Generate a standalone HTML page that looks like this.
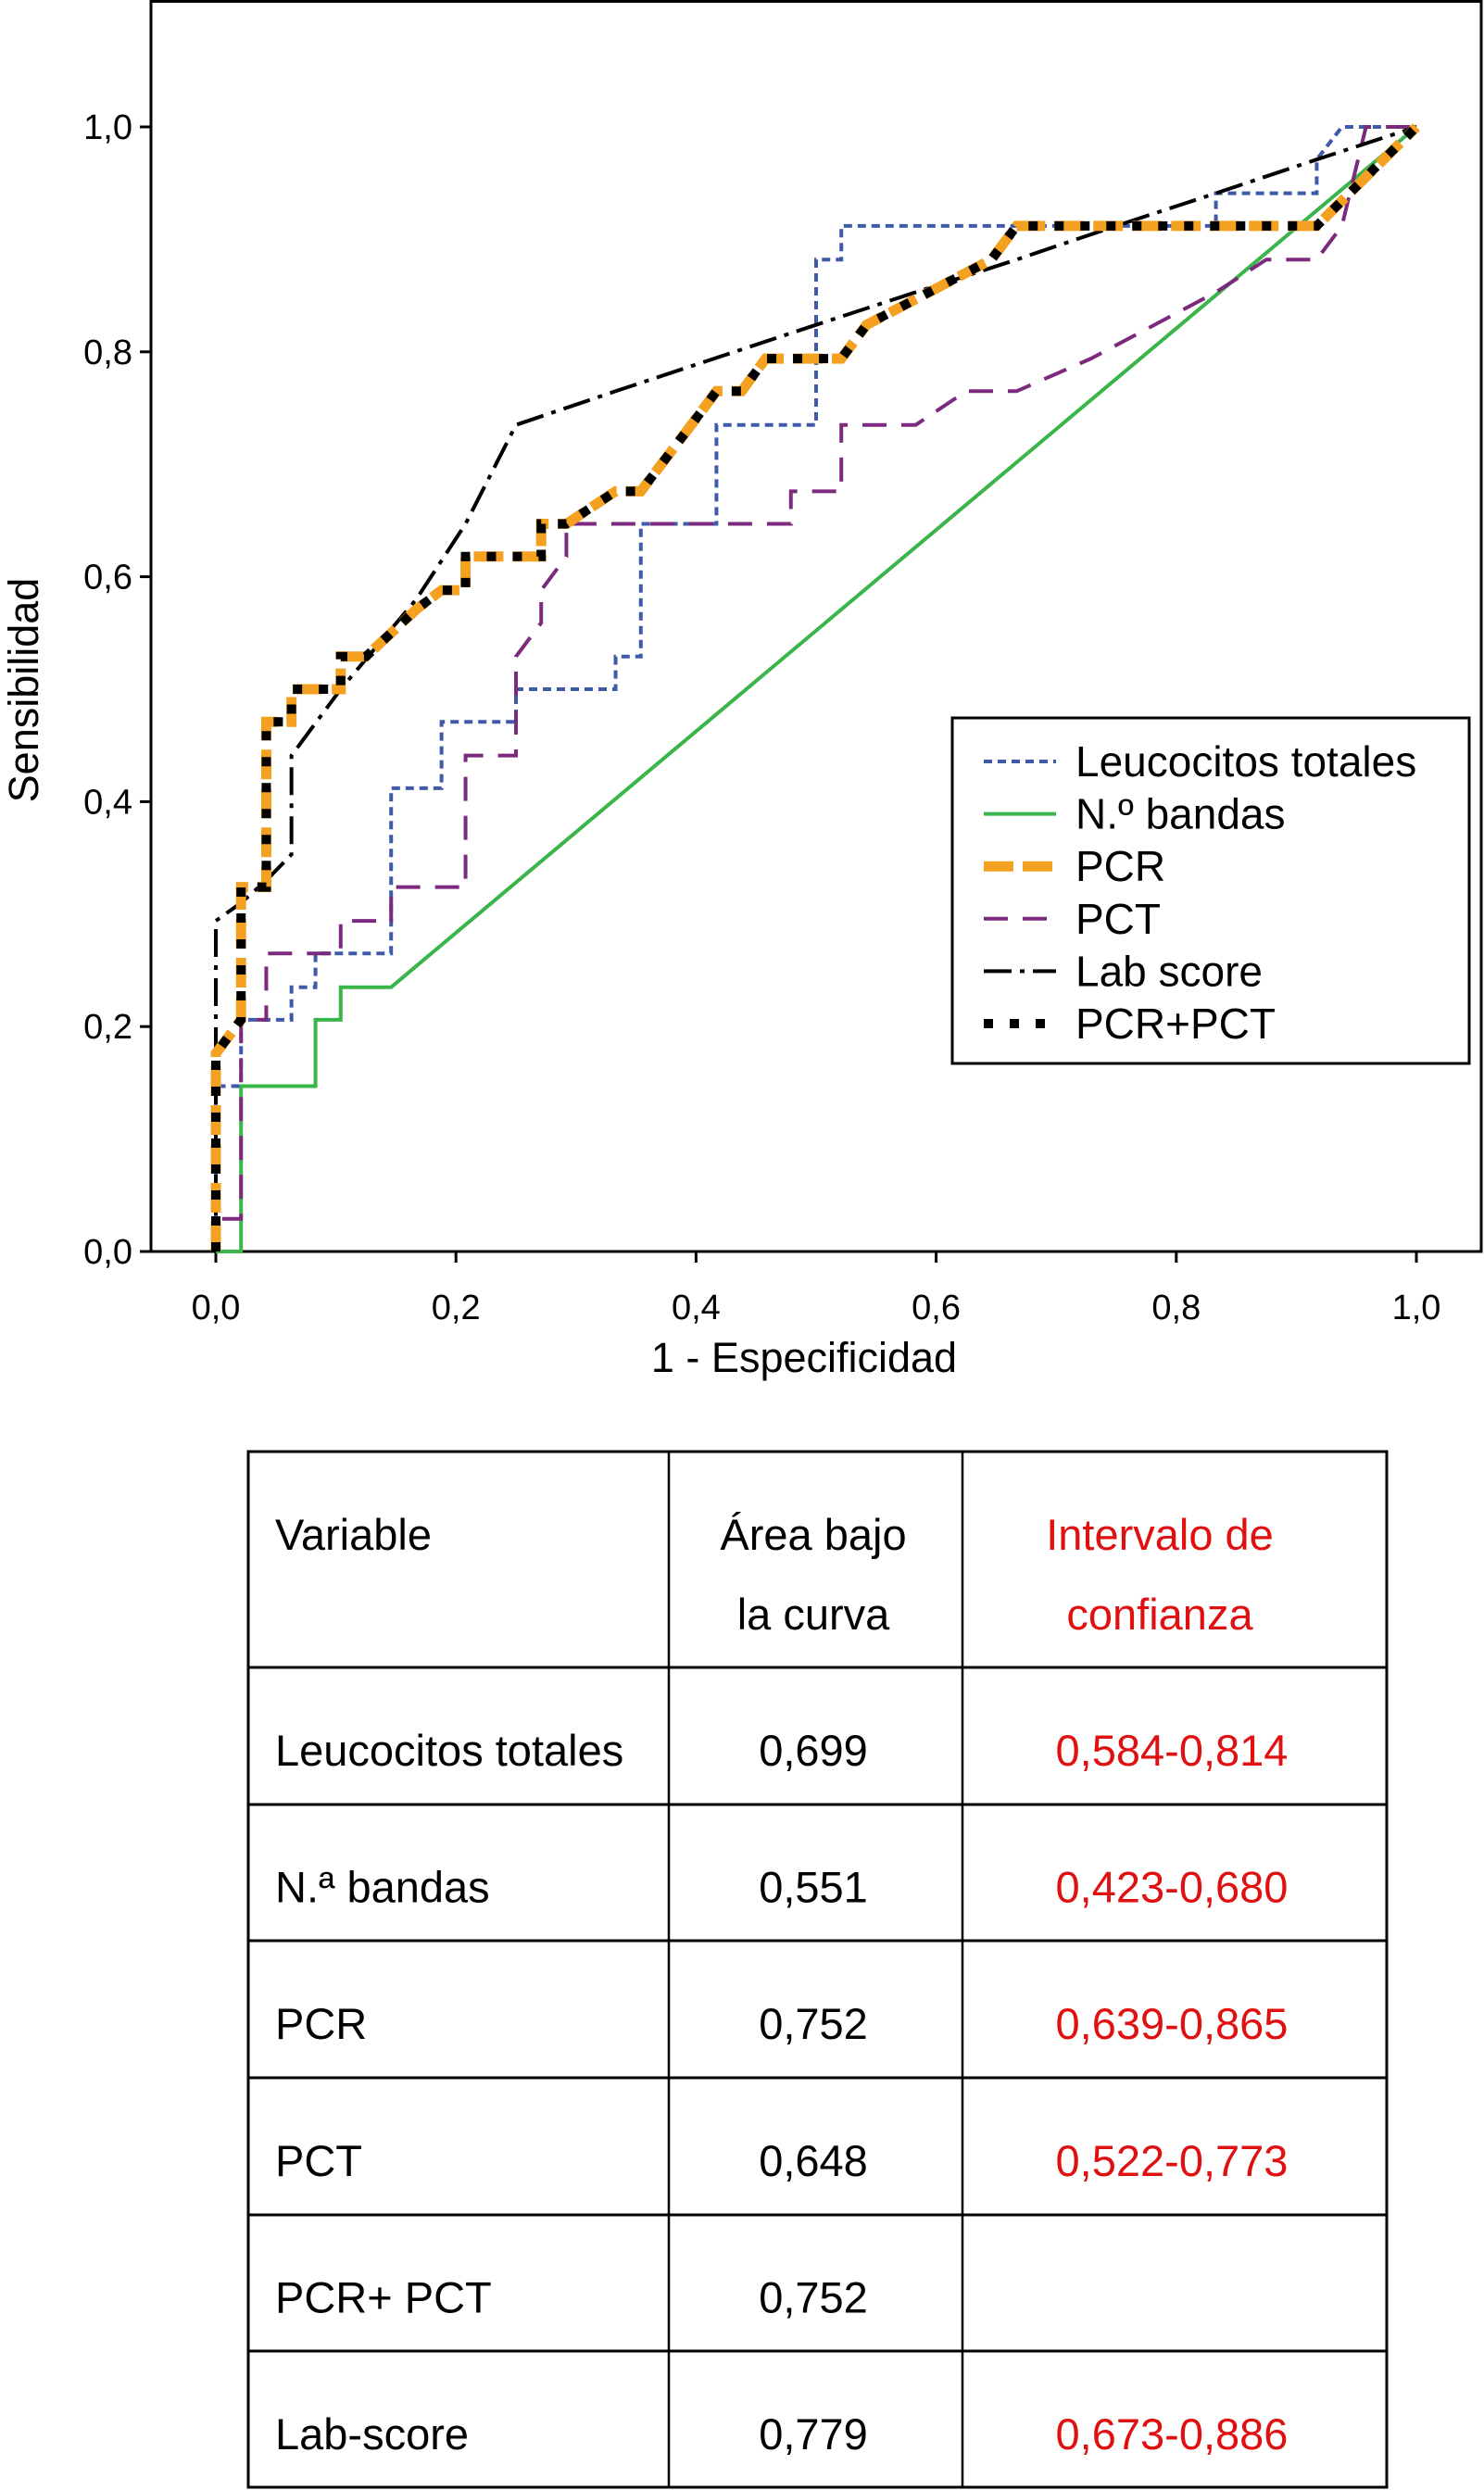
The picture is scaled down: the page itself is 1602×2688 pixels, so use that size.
<!DOCTYPE html>
<html><head><meta charset="utf-8"><style>
html,body{margin:0;padding:0;background:#fff;}
svg{display:block;font-family:"Liberation Sans",Arial,sans-serif;}
</style></head><body>
<svg id="chart" width="1602" height="2688" viewBox="0 0 1602 2688" xmlns="http://www.w3.org/2000/svg">
<rect x="0" y="0" width="1602" height="2688" fill="#fff"/>
<rect x="163" y="1.5" width="1436" height="1349.5" fill="none" stroke="#000" stroke-width="3"/>
<g id="axes"></g>
<g id="series"></g>
<g>
<rect x="1028" y="775" width="558" height="373" fill="#fff" stroke="#000" stroke-width="3"/>
<g id="legendItems"></g>
</g>
<text x="868" y="1481" font-size="45" text-anchor="middle">1 - Especificidad</text>
<text transform="translate(41,745) rotate(-90)" font-size="45" text-anchor="middle">Sensibilidad</text>
<g id="table"></g>
</svg>
<script>
var NS='http://www.w3.org/2000/svg';
var xTicks=[0,0.2,0.4,0.6,0.8,1.0];
var yTicks=[0,0.2,0.4,0.6,0.8,1.0];
var tickLabels=['0,0','0,2','0,4','0,6','0,8','1,0'];
var leucX=[0,0,0.021,0.021,0.063,0.063,0.083,0.083,0.146,0.146,0.188,0.188,0.25,0.25,0.333,0.333,0.354,0.354,0.417,0.417,0.5,0.5,0.521,0.521,0.833,0.833,0.917,0.917,0.938,1];
var leucY=[0,0.147,0.147,0.206,0.206,0.235,0.235,0.265,0.265,0.412,0.412,0.471,0.471,0.5,0.5,0.529,0.529,0.647,0.647,0.735,0.735,0.882,0.882,0.912,0.912,0.941,0.941,0.971,1,1];
var bandX=[0,0.021,0.021,0.083,0.083,0.104,0.104,0.146,1];
var bandY=[0,0,0.147,0.147,0.206,0.206,0.235,0.235,1];
var pctX=[0,0,0.021,0.021,0.042,0.042,0.104,0.104,0.146,0.146,0.208,0.208,0.25,0.25,0.271,0.271,0.292,0.292,0.479,0.479,0.521,0.521,0.583,0.625,0.667,0.729,0.833,0.875,0.917,0.938,0.958,1];
var pctY=[0,0.029,0.029,0.206,0.206,0.265,0.265,0.294,0.294,0.324,0.324,0.441,0.441,0.529,0.559,0.588,0.618,0.647,0.647,0.676,0.676,0.735,0.735,0.765,0.765,0.794,0.853,0.882,0.882,0.912,1,1];
var pcrX=[0,0,0.021,0.021,0.042,0.042,0.063,0.063,0.104,0.104,0.125,0.167,0.188,0.208,0.208,0.271,0.271,0.292,0.333,0.354,0.396,0.417,0.438,0.458,0.521,0.542,0.646,0.667,0.917,1];
var pcrY=[0,0.176,0.206,0.324,0.324,0.471,0.471,0.5,0.5,0.529,0.529,0.571,0.588,0.588,0.618,0.618,0.647,0.647,0.676,0.676,0.735,0.765,0.765,0.794,0.794,0.824,0.882,0.912,0.912,1];
var labX=[0,0,0.021,0.042,0.063,0.063,0.104,0.167,0.208,0.25,0.333,0.5,0.583,0.667,0.75,0.833,0.917,1];
var labY=[0,0.294,0.31,0.33,0.353,0.441,0.5,0.58,0.647,0.735,0.765,0.824,0.853,0.882,0.912,0.941,0.971,1];
var legendLabels=['Leucocitos totales','N.º bandas','PCR','PCT','Lab score','PCR+PCT'];
var tableVars=['Leucocitos totales','N.ª bandas','PCR','PCT','PCR+ PCT','Lab-score'];
var tableAUC=['0,699','0,551','0,752','0,648','0,752','0,779'];
var tableCI=['0,584-0,814','0,423-0,680','0,639-0,865','0,522-0,773','','0,673-0,886'];

function sx(v){return 233+v*1296;}
function sy(v){return 1351-v*1214;}
function mk(tag,attrs,parent){var e=document.createElementNS(NS,tag);for(var k in attrs)e.setAttribute(k,attrs[k]);parent.appendChild(e);return e;}
var axes=document.getElementById('axes');
xTicks.forEach(function(t,i){
  var l=mk('line',{x1:sx(t),x2:sx(t),y1:1351,y2:1363,stroke:'#000','stroke-width':3},axes);
  
  
  var tx=mk('text',{x:sx(t),y:1424,'font-size':38,'text-anchor':'middle'},axes);
  
  
  tx.textContent=tickLabels[i];
});
yTicks.forEach(function(t,i){
  var l=mk('line',{x1:151,x2:163,y1:sy(t),y2:sy(t),stroke:'#000','stroke-width':3},axes);
  
  
  var tx=mk('text',{x:143,y:sy(t)+13,'font-size':38,'text-anchor':'end'},axes);
  
  
  tx.textContent=tickLabels[i];
});
var styles=[
 {c:'#3f5aa8',w:4,d:'9 6'},
 {c:'#3ab54a',w:4,d:''},
 {c:'#f4a020',w:11,d:'32 10'},
 {c:'#7b2a7e',w:4,d:'26 16'},
 {c:'#000',w:4,d:'30 9 5 9'},
 {c:'#000',w:10,d:'10 18'}
];
var seriesX=[leucX,bandX,pcrX,pctX,labX,pcrX];
var seriesY=[leucY,bandY,pcrY,pctY,labY,pcrY];
var names=['leucocitos-curve','bandas-curve','pcr-curve','pct-curve','lab-score-curve','pcr-pct-curve'];
var sg=document.getElementById('series');
var order=[1,0,3,4,2,5];
order.forEach(function(i){
  var pts=seriesX[i].map(function(x,j){return sx(x)+','+sy(seriesY[i][j]);}).join(' ');
  var p=mk('polyline',{points:pts,fill:'none',stroke:styles[i].c,'stroke-width':styles[i].w,'stroke-dasharray':styles[i].d,'stroke-linejoin':'miter'},sg);
  
  
});
var lg=document.getElementById('legendItems');
legendLabels.forEach(function(lab,i){
  var y=822+i*56.6;
  var l=mk('line',{x1:1062,x2:1140,y1:y,y2:y,stroke:styles[i].c,'stroke-width':styles[i].w,'stroke-dasharray':styles[i].d},lg);
  
  
  var t=mk('text',{x:1161,y:y+16,'font-size':46},lg);
  
  
  t.textContent=lab;
});
var tb=document.getElementById('table');
var L=268,C1=722,C2=1039,R=1497,T=1567,B=2685;
var rows=[1800,1948,2095,2243,2391,2538];
var g=mk('rect',{x:L,y:T,width:R-L,height:B-T,fill:'none',stroke:'#000','stroke-width':3},tb);


[C1,C2].forEach(function(x){var l=mk('line',{x1:x,x2:x,y1:T,y2:B,stroke:'#000','stroke-width':2.5},tb);});
rows.forEach(function(y){var l=mk('line',{x1:L,x2:R,y1:y,y2:y,stroke:'#000','stroke-width':3},tb);});
function tt(txt,x,y,anchor,color,name){
  var t=mk('text',{x:x,y:y,'font-size':47,'text-anchor':anchor,fill:color},tb);
  
  
  t.textContent=txt;return t;
}
var red='#e01010';
tt('Variable',297,1673,'start','#000','header-variable');
tt('Área bajo',878,1673,'middle','#000','header-auc');
tt('la curva',878,1759,'middle','#000','header-auc-line2');
tt('Intervalo de',1252,1673,'middle',red,'header-ci');
tt('confianza',1252,1759,'middle',red,'header-ci-line2');
tableVars.forEach(function(v,i){
  var y=1906+i*147.6;
  tt(v,297,y,'start','#000','table-variable-cell');
  tt(tableAUC[i],878,y,'middle','#000','table-auc-cell');
  if(tableCI[i])tt(tableCI[i],1265,y,'middle',red,'table-ci-cell');
});
</script>
</body></html>
